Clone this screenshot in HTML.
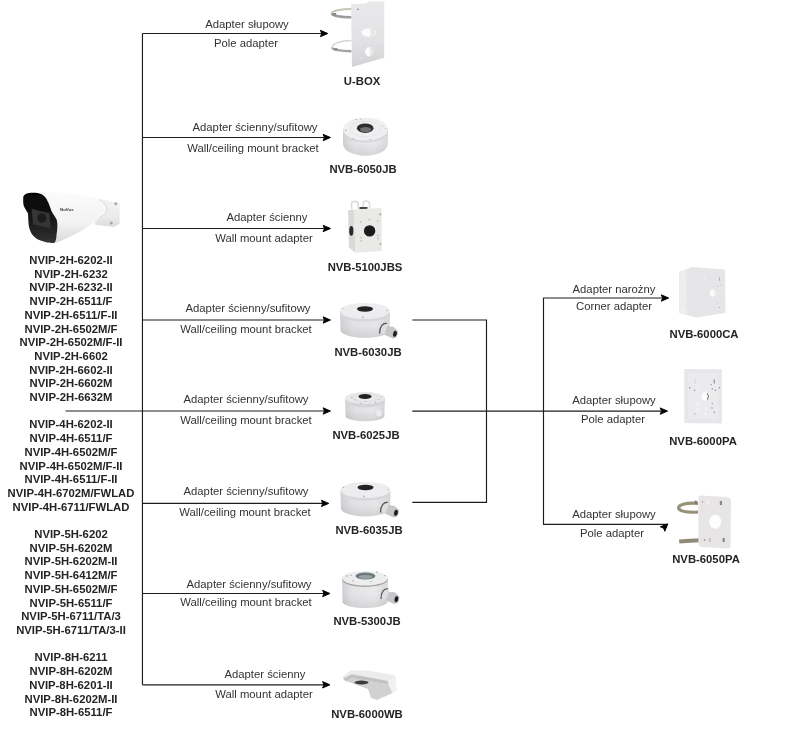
<!DOCTYPE html>
<html lang="pl">
<head>
<meta charset="utf-8">
<title>Adapter compatibility diagram</title>
<style>
html,body{margin:0;padding:0;background:#fff;}
body{width:800px;height:751px;position:relative;overflow:hidden;font-family:"Liberation Sans",sans-serif;font-size:11.3px;color:#333;}
#g{position:absolute;left:0;top:0;}
.t,.m,svg{will-change:transform;}
.t{position:absolute;width:200px;text-align:center;line-height:14px;white-space:nowrap;}
.b{font-weight:bold;color:#242424;}
.m{position:absolute;left:-29px;top:253.9px;width:200px;text-align:center;font-weight:bold;line-height:13.7px;white-space:nowrap;color:#242424;}
</style>
</head>
<body>
<svg id="g" width="800" height="751" viewBox="0 0 800 751">
<defs>
<path id="ah" d="M0 0 L-7.4 3.2 L-6.1 0 L-7.4 -3.2 Z" fill="#000" stroke="#000" stroke-width="0.9" stroke-linejoin="miter"/>
</defs>
<g id="lines" fill="none" stroke="#1c1c1c" stroke-width="1.15">
<path d="M142.45 33.5 V684.8"/>
<path d="M142.45 33.5 H322"/>
<path d="M142.45 137.5 H324"/>
<path d="M142.45 228.5 H324"/>
<path d="M142.45 320 H324"/>
<path d="M65.5 411 H324"/>
<path d="M142.45 503.4 H323"/>
<path d="M142.45 593.5 H324"/>
<path d="M142.45 684.8 H324"/>
<path d="M412.3 320 H486.5 V502.4 H412.3"/>
<path d="M412.3 411.1 H661"/>
<path d="M662 298 H543.5 V524.3 H667"/>
</g>
<g id="heads">
<use href="#ah" x="327.8" y="33.5"/>
<use href="#ah" x="330.5" y="137.5"/>
<use href="#ah" x="330.5" y="228.5"/>
<use href="#ah" x="330.5" y="320"/>
<use href="#ah" x="330.5" y="411"/>
<use href="#ah" x="328.8" y="503.4"/>
<use href="#ah" x="330" y="593.5"/>
<use href="#ah" x="330" y="684.8"/>
<use href="#ah" x="668.7" y="298"/>
<use href="#ah" x="667.6" y="411.1"/>
<use href="#ah" transform="translate(667.8 523.8) rotate(-45)"/>
</g>
</svg>

<svg id="p" width="800" height="751" viewBox="0 0 800 751" style="position:absolute;left:0;top:0">
<defs>
<filter id="bl" x="-10%" y="-10%" width="120%" height="120%"><feGaussianBlur stdDeviation="0.55"/></filter>
<linearGradient id="cyl" x1="0" x2="1" y1="0" y2="0"><stop offset="0" stop-color="#d1d1d5"/><stop offset="0.25" stop-color="#e3e3e6"/><stop offset="0.7" stop-color="#e8e8ea"/><stop offset="1" stop-color="#d6d6da"/></linearGradient>
<linearGradient id="cyl2" x1="0" x2="1" y1="0" y2="0"><stop offset="0" stop-color="#d0d0d4"/><stop offset="0.22" stop-color="#e5e5e8"/><stop offset="0.7" stop-color="#ebebed"/><stop offset="1" stop-color="#dadadd"/></linearGradient>
<linearGradient id="body" x1="0" x2="0" y1="0" y2="1"><stop offset="0" stop-color="#fbfbfb"/><stop offset="0.6" stop-color="#f3f3f3"/><stop offset="1" stop-color="#d9d9d9"/></linearGradient>
<linearGradient id="ubx" x1="0" x2="0" y1="0" y2="1"><stop offset="0" stop-color="#e9e9eb"/><stop offset="0.6" stop-color="#e2e2e5"/><stop offset="1" stop-color="#d2d2d5"/></linearGradient>
<linearGradient id="shd" x1="0" x2="0" y1="0" y2="1"><stop offset="0" stop-color="#000" stop-opacity="0"/><stop offset="0.55" stop-color="#000" stop-opacity="0.01"/><stop offset="1" stop-color="#000" stop-opacity="0.09"/></linearGradient>
<linearGradient id="base" x1="0" x2="0" y1="0" y2="1"><stop offset="0" stop-color="#f3f3f3"/><stop offset="0.6" stop-color="#ececec"/><stop offset="1" stop-color="#dcdcdc"/></linearGradient>
<linearGradient id="hood" x1="0" x2="0" y1="0" y2="1"><stop offset="0" stop-color="#050505"/><stop offset="0.5" stop-color="#161616"/><stop offset="1" stop-color="#333"/></linearGradient>
</defs>

<!-- camera -->
<g filter="url(#bl)">
<path d="M99.2 198.9 L119.6 202.7 L119.6 223.8 L114 227 L95 224.8 Z" fill="url(#base)"/>
<circle cx="115.8" cy="203.7" r="1.5" fill="#a9a9a9"/><circle cx="111.3" cy="223.1" r="1.5" fill="#a6a6a6"/>
<path d="M36 192.3 C55 191.5 80 193.5 98.5 199.5 C104 202 106.8 205.5 106.8 209 C106.8 213 103.5 216 99.2 218 C95 222 88 227 80 231.5 C72 236 64 240 55.5 243 L44 240 Z" fill="url(#body)"/>
<path d="M98.5 199.5 C104 202 106.8 205.5 106.8 209 C106.8 213 103.5 216 99.2 218" fill="none" stroke="#cfcfcf" stroke-width="0.8"/>
<path d="M23.2 197.1 C24 194.5 26 193.3 29 193 C34 192.4 38 192.8 41 194.1 C44 195.5 46 197.5 47.5 201 C49.5 205 50.5 208 51.4 211 C53 214 55.5 217 56.8 220 C57.8 224 57.4 230 56.6 234 C56.4 237 56.2 239 55.7 240.4 C55 242.6 54 243.2 52 243 C49 243 47 242.6 45.3 242.1 C42 241 39 240 36.6 238.7 C34.5 237.4 32.8 235.5 31.5 233.5 C30.3 231.5 29.4 229 28.9 226.6 C28.3 222 28.2 217 28 213.6 C27 211.5 25.5 209.5 24.5 207.5 C23.6 205.5 23.2 204 23.2 202.3 Z" fill="url(#hood)"/>
<path d="M31.5 208.8 L49.6 213.5 L50.5 228.3 L33 224.5 Z" fill="#353535"/>
<ellipse cx="41.8" cy="218" rx="4.4" ry="4.8" fill="#1b1b1b"/>
</g>
<text x="60" y="210.5" font-family="Liberation Sans, sans-serif" font-size="4.4" font-weight="bold" fill="#333" textLength="13.6" lengthAdjust="spacingAndGlyphs">NoVus</text>

<!-- U-BOX -->
<g id="ubox" filter="url(#bl)">
<path d="M331.8 13.4 A20 4.4 0 0 1 351.8 9" fill="none" stroke="#c6c6b4" stroke-width="1.9"/>
<path d="M331.8 13.4 A20 4 0 0 0 351.8 17.3" fill="none" stroke="#9c9c9a" stroke-width="2.4"/>
<rect x="332.6" y="13" width="3.6" height="2.6" fill="#8a8a88"/>
<path d="M332.3 47.4 A19 7 0 0 1 351.5 40.5" fill="none" stroke="#d4d4d2" stroke-width="1.5"/>
<path d="M332.3 47.4 A19 3.9 0 0 0 351.5 51.3" fill="none" stroke="#a3a3a2" stroke-width="2.4"/>
<rect x="334" y="48" width="3.4" height="2.4" fill="#8e8e8c"/>
<path d="M351.1 4.2 L367.4 3.3 L367.4 1.4 L384.2 1.4 L384.2 57.8 L352 67.1 Z" fill="url(#ubx)"/>
<ellipse cx="368.8" cy="32.6" rx="7.4" ry="4.1" fill="#fbfbfb"/>
<path d="M369.6 28.6 A7.4 4.1 0 0 1 369.6 36.6 Q372 32.6 369.6 28.6 Z" fill="#e6e6e6"/>
<ellipse cx="369.3" cy="51.7" rx="4.2" ry="4.7" fill="#fbfbfb"/>
<path d="M369.6 47 A4.2 4.7 0 0 1 369.6 56.4 Q371.4 51.7 369.6 47 Z" fill="#e6e6e6"/>
<circle cx="358" cy="9.2" r="0.8" fill="#777"/>
<g fill="#f4f4f4"><circle cx="358" cy="19.5" r="0.55"/><circle cx="358.6" cy="25.6" r="0.55"/><circle cx="360.4" cy="22.8" r="0.5"/><circle cx="378.6" cy="21.6" r="0.55"/><circle cx="376.5" cy="24.6" r="0.5"/><circle cx="361" cy="44" r="0.55"/><circle cx="360" cy="47" r="0.5"/><circle cx="377.4" cy="40.6" r="0.55"/><circle cx="375.2" cy="43.6" r="0.5"/><circle cx="361" cy="59" r="0.5"/><circle cx="377" cy="53" r="0.5"/></g>
</g>

<!-- NVB-6050JB -->
<g filter="url(#bl)">
<path d="M343 129.1 L343 144 A22.4 11.6 0 0 0 387.9 144 L387.9 129.1 Z" fill="url(#cyl2)"/>
<path d="M343 129.1 L343 144 A22.4 11.6 0 0 0 387.9 144 L387.9 129.1 Z" fill="url(#shd)"/>
<ellipse cx="365.5" cy="131" rx="22.4" ry="11.5" fill="#d6d6da"/>
<ellipse cx="365.5" cy="129.1" rx="22.4" ry="11.4" fill="#efeff1"/>
<g fill="#a0a0a0"><circle cx="356" cy="119.4" r="0.6"/><circle cx="360.8" cy="119" r="0.6"/><circle cx="345.9" cy="130.4" r="0.7"/><circle cx="353.4" cy="138.7" r="0.6"/><circle cx="370" cy="139.6" r="0.6"/><circle cx="382.7" cy="126" r="0.5"/><circle cx="385.3" cy="128.6" r="0.5"/><circle cx="352" cy="150" r="0.5"/></g>
<ellipse cx="365.5" cy="129" rx="15.5" ry="7.8" fill="none" stroke="#e3e3e6" stroke-width="0.8"/>
<ellipse cx="365.2" cy="128.2" rx="8.3" ry="4.8" fill="#2e2e2e"/>
<ellipse cx="365.6" cy="129.6" rx="5.6" ry="2.6" fill="#6f6f6f"/>
</g>

<!-- NVB-5100JBS -->
<g filter="url(#bl)">
<path d="M351.6 209 L351.6 203 Q351.8 201.4 354.5 201.4 Q358 201.4 358.2 204 L358.2 209" fill="none" stroke="#dcdcdc" stroke-width="1.6"/>
<path d="M363.2 208.5 L363.2 203 Q363.4 201 366.3 201 Q369.4 201 369.6 204 L369.6 208.5" fill="none" stroke="#dcdcdc" stroke-width="1.6"/>
<rect x="359.5" y="207" width="8" height="2.2" fill="#444"/>
<path d="M348.1 210.3 L353.8 209.4 L355.6 252.7 L349 247.5 Z" fill="#d9d9d7"/>
<path d="M353.8 209.4 L381.4 208.1 L381.8 251 L355.6 252.7 Z" fill="#e9e9e7"/>
<circle cx="369.6" cy="230.9" r="5.7" fill="#1f1f1f"/>
<ellipse cx="351.3" cy="230.9" rx="2.1" ry="4.8" fill="#2a2a2a"/>
<circle cx="380.3" cy="214.3" r="1.1" fill="#aaa"/><circle cx="380.5" cy="244" r="1.1" fill="#aaa"/>
<rect x="360" y="221.3" width="1.4" height="1.6" fill="#bbb"/><rect x="368.6" y="218.8" width="1.4" height="1.6" fill="#bbb"/><rect x="377" y="220" width="1.4" height="1.6" fill="#bbb"/>
<rect x="360.3" y="236.8" width="1.4" height="1.6" fill="#bbb"/><rect x="360.5" y="240" width="1.4" height="1.6" fill="#bbb"/><rect x="377.3" y="234.7" width="1.4" height="1.4" fill="#bbb"/><rect x="377.4" y="237.8" width="1.4" height="1.4" fill="#bbb"/>
</g>

<!-- NVB-6030JB -->
<g id="jb30" filter="url(#bl)">
<path d="M340 311 L340.4 330 A24.6 7.8 0 0 0 389.6 330 L390 311 Z" fill="url(#cyl)"/>
<path d="M340 311 L340.4 330 A24.6 7.8 0 0 0 389.6 330 L390 311 Z" fill="url(#shd)"/>
<ellipse cx="365" cy="313.6" rx="24.9" ry="8" fill="#d7d7db"/>
<ellipse cx="365" cy="311" rx="25" ry="8" fill="#ededef"/>
<circle cx="342.6" cy="308.6" r="0.7" fill="#b0b0b0"/><circle cx="387" cy="310.4" r="0.7" fill="#b0b0b0"/>
<ellipse cx="365" cy="309" rx="8" ry="2.7" fill="#222"/>
<circle cx="363" cy="317.4" r="0.8" fill="#aaa"/>
<path d="M384.6 326.0 L393.4 326.8 L397.6 330.8 L396.8 336.8 L393.4 338.8 L384.2 334.8 Z" fill="#c7c7ca"/>
<path d="M382.2 324.0 L387.8 324.8 L384.8 333.8 L381.0 333.2 Z" fill="#dfdfe1"/>
<path d="M386.8 323.4 C383.0 322.8 379.4 326.4 379.6 333.6" fill="none" stroke="#505050" stroke-width="1.2"/>
<ellipse cx="395.0" cy="333.8" rx="2.7" ry="3.9" transform="rotate(15 395.0 333.8)" fill="#bcbcbf"/>
<ellipse cx="395.0" cy="333.8" rx="1.8" ry="3" transform="rotate(15 395.0 333.8)" fill="#1c1c1c"/>
</g>

<!-- NVB-6025JB -->
<g id="jb25" filter="url(#bl)">
<path d="M345 398 L345.6 416.4 A19.6 5.8 0 0 0 384.4 416.4 L385 398 Z" fill="url(#cyl)"/>
<path d="M345 398 L345.6 416.4 A19.6 5.8 0 0 0 384.4 416.4 L385 398 Z" fill="url(#shd)"/>
<ellipse cx="365" cy="401.6" rx="19.8" ry="6" fill="#d5d5d9"/>
<ellipse cx="365" cy="398" rx="20" ry="6" fill="#e9e9eb"/>
<ellipse cx="365" cy="397.6" rx="13" ry="4" fill="none" stroke="#dcdce0" stroke-width="0.9"/>
<ellipse cx="365" cy="396.5" rx="6.5" ry="2.5" fill="#222"/>
<g fill="#a8a8a8"><circle cx="351.6" cy="397.6" r="0.6"/><circle cx="355.2" cy="399.8" r="0.6"/><circle cx="361" cy="403.4" r="0.6"/><circle cx="375.6" cy="402.4" r="0.6"/><circle cx="379" cy="399.6" r="0.6"/><circle cx="381.4" cy="397" r="0.6"/><circle cx="365.6" cy="401.8" r="0.5"/><circle cx="371" cy="393" r="0.5"/></g>
<ellipse cx="379" cy="413" rx="3" ry="3.6" fill="#ebebed"/>
</g>

<!-- NVB-6035JB -->
<g id="jb35" filter="url(#bl)">
<path d="M340.5 490 L340.9 508.6 A24.6 7.8 0 0 0 390.1 508.6 L390.5 490 Z" fill="url(#cyl)"/>
<path d="M340.5 490 L340.9 508.6 A24.6 7.8 0 0 0 390.1 508.6 L390.5 490 Z" fill="url(#shd)"/>
<ellipse cx="365.5" cy="492.6" rx="24.9" ry="8" fill="#d7d7db"/>
<ellipse cx="365.5" cy="490" rx="25" ry="8" fill="#ededef"/>
<circle cx="343.4" cy="487.4" r="0.7" fill="#b0b0b0"/><circle cx="388" cy="489.6" r="0.7" fill="#b0b0b0"/>
<ellipse cx="365.5" cy="487.5" rx="8" ry="2.7" fill="#222"/>
<circle cx="364" cy="496.4" r="0.8" fill="#aaa"/>
<path d="M385.6 505.0 L394.4 505.8 L398.6 509.8 L397.8 515.8 L394.4 517.8 L385.2 513.8 Z" fill="#c7c7ca"/>
<path d="M383.2 503.0 L388.8 503.8 L385.8 512.8 L382.0 512.2 Z" fill="#dfdfe1"/>
<path d="M387.8 502.4 C384.0 501.8 380.4 505.4 380.6 512.6" fill="none" stroke="#505050" stroke-width="1.2"/>
<ellipse cx="396.0" cy="512.8" rx="2.7" ry="3.9" transform="rotate(15 396.0 512.8)" fill="#bcbcbf"/>
<ellipse cx="396.0" cy="512.8" rx="1.8" ry="3" transform="rotate(15 396.0 512.8)" fill="#1c1c1c"/>
</g>

<!-- NVB-5300JB -->
<g id="jb53" filter="url(#bl)">
<path d="M342 578.5 L342.6 602.2 A22.6 6.8 0 0 0 387.4 602.2 L388 578.5 Z" fill="url(#cyl2)"/>
<path d="M342 578.5 L342.6 602.2 A22.6 6.8 0 0 0 387.4 602.2 L388 578.5 Z" fill="url(#shd)"/>
<ellipse cx="365" cy="579.3" rx="23" ry="7.6" fill="#a4a4a4"/>
<ellipse cx="365" cy="578.2" rx="22.8" ry="7.3" fill="#ededee"/>
<g fill="#9a9a9a"><circle cx="346.6" cy="576" r="0.7"/><circle cx="353" cy="581" r="0.7"/><circle cx="371" cy="581.6" r="0.7"/><circle cx="377" cy="572" r="0.7"/><circle cx="385" cy="575.6" r="0.7"/><circle cx="351" cy="575.4" r="0.6"/></g>
<ellipse cx="365.5" cy="576" rx="10" ry="3.5" fill="#6e787c"/>
<ellipse cx="365.5" cy="576.8" rx="6.8" ry="1.9" fill="#98a1a5"/>
<path d="M386.0 591.4 L394.8 592.2 L399.0 596.2 L398.2 602.2 L394.8 604.2 L385.6 600.2 Z" fill="#c7c7ca"/>
<path d="M383.6 589.4 L389.2 590.2 L386.2 599.2 L382.4 598.6 Z" fill="#dfdfe1"/>
<path d="M388.2 588.8 C384.4 588.2 380.8 591.8 381.0 599.0" fill="none" stroke="#505050" stroke-width="1.2"/>
<ellipse cx="396.4" cy="599.2" rx="2.7" ry="3.9" transform="rotate(15 396.4 599.2)" fill="#bcbcbf"/>
<ellipse cx="396.4" cy="599.2" rx="1.8" ry="3" transform="rotate(15 396.4 599.2)" fill="#1c1c1c"/>
</g>

<!-- NVB-6000WB -->
<g id="wb" filter="url(#bl)">
<path d="M342.5 676.8 L351 670.3 L369 670.8 L395 675.3 L396 678.5 L388 681.5 L352 674.5 L343 679.2 Z" fill="#ececec"/>
<path d="M343 678.6 L352 674.3 L388 681 L388.6 684.4 L352 678.2 L346 681.4 Z" fill="#c2c2c2"/>
<path d="M346 681.2 L352 678 L388.6 684.2 L392.5 693 L377 700 L371 698 L368 689 L348 681.8 Z" fill="#d1d1d1"/>
<path d="M388 680.6 L395.6 676.4 L396.6 691 L392.6 693.6 Z" fill="#f1f1f1"/>
<ellipse cx="361.5" cy="682.5" rx="7" ry="1.9" fill="#3a3a3a"/>
</g>

<!-- NVB-6000CA -->
<g id="ca60" filter="url(#bl)">
<path d="M679.3 272 L692.4 266.9 L725 269.6 L725.5 313 L696.1 317.6 L679.3 313 Z" fill="#e6e6e9"/>
<path d="M679.3 272 L686 269.4 L687 315 L679.3 313 Z" fill="#ededef"/>
<ellipse cx="712.9" cy="293" rx="3" ry="3.6" fill="#fcfcfc"/>
<path d="M713.6 289.8 A3 3.6 0 0 1 713.6 296.4 Q715 293 713.6 289.8 Z" fill="#e9e9e9"/>
<circle cx="683" cy="275.2" r="1" fill="#fafafa"/><circle cx="683" cy="310.2" r="1" fill="#fafafa"/>
<rect x="703.6" y="277" width="1.1" height="4" fill="#f3f3f3"/>
<rect x="719" y="277.3" width="1" height="3.4" fill="#b0b0b0"/>
<g fill="#b4b4b4"><circle cx="719.4" cy="307.4" r="0.7"/><circle cx="720.8" cy="285" r="0.5"/><circle cx="717.5" cy="302.7" r="0.5"/><circle cx="717.6" cy="286.4" r="0.5"/></g>
</g>

<!-- NVB-6000PA -->
<g id="pa60" filter="url(#bl)">
<path d="M684.2 369 L721.8 369.3 L722 423.4 L684.4 423 Z" fill="#e7e7ea"/>
<path d="M688 373 L718 373.2 L718 419 L688 419 Z" fill="#ebebed"/>
<circle cx="705.6" cy="396.4" r="4.2" fill="#fcfcfc"/>
<path d="M707.3 393.4 Q709.6 396 707.5 399.6" fill="none" stroke="#5a5a5a" stroke-width="1"/>
<rect x="713.6" y="379.4" width="1.3" height="4.2" fill="#9a9a9a"/>
<rect x="694.6" y="379.4" width="0.9" height="4.2" fill="#cfcfcf"/>
<g fill="#8e8e8e"><circle cx="689.9" cy="387.7" r="0.75"/><circle cx="694.6" cy="390.3" r="0.7"/><circle cx="719.5" cy="387.7" r="0.7"/><circle cx="712.3" cy="388.9" r="0.7"/><circle cx="715.5" cy="390.3" r="0.7"/><circle cx="711.3" cy="384.7" r="0.6"/><circle cx="712.3" cy="403.6" r="0.7"/><circle cx="712" cy="408" r="0.7"/><circle cx="714.4" cy="412.2" r="0.8"/><circle cx="694.9" cy="413.8" r="0.6"/></g>
<g fill="#f8f8f8"><circle cx="697.8" cy="388.9" r="0.9"/><rect x="697.2" y="403.6" width="1.4" height="2.6"/><rect x="697.6" y="408" width="1.2" height="2.4"/><rect x="705" y="407.4" width="1.3" height="3"/><rect x="705" y="412.4" width="1.3" height="2.8"/></g>
</g>

<!-- NVB-6050PA -->
<g filter="url(#bl)">
<path d="M698 503.4 C685 502.4 678.2 505 678.6 508.2 C679.6 511.4 688 512.4 698 512.2" fill="none" stroke="#979278" stroke-width="3.2"/>
<path d="M679.2 541.6 Q690 540.4 700.5 540.2" fill="none" stroke="#908b78" stroke-width="4"/>
<path d="M700.4 495.6 L726.9 497 Q731 497.6 731 501.3 L730.6 545 Q730.4 548.6 727.8 548.6 L701.7 546.9 Q698.6 546.4 698.4 542.2 L698.4 498 Q698.6 495.6 700.4 495.6 Z" fill="#e7e5e6"/>
<ellipse cx="715.2" cy="521.7" rx="6" ry="7" fill="#fdfdfd"/>
<rect x="694.8" y="500.6" width="2" height="3.4" fill="#777"/>
<rect x="719.8" y="501" width="2.2" height="4" fill="#8a8a84"/>
<rect x="722.6" y="538" width="2.2" height="4" fill="#8a8a84"/>
<rect x="708.8" y="538" width="2" height="4" fill="#c4c2c0"/>
<rect x="706.6" y="500.6" width="2" height="4" fill="#f6f6f6"/>
<circle cx="702.6" cy="502" r="0.8" fill="#999"/><circle cx="704.6" cy="540" r="0.9" fill="#999"/>
</g>
</svg>

<div class="m">NVIP-2H-6202-II<br>NVIP-2H-6232<br>NVIP-2H-6232-II<br>NVIP-2H-6511/F<br>NVIP-2H-6511/F-II<br>NVIP-2H-6502M/F<br>NVIP-2H-6502M/F-II<br>NVIP-2H-6602<br>NVIP-2H-6602-II<br>NVIP-2H-6602M<br>NVIP-2H-6632M<br><br>NVIP-4H-6202-II<br>NVIP-4H-6511/F<br>NVIP-4H-6502M/F<br>NVIP-4H-6502M/F-II<br>NVIP-4H-6511/F-II<br>NVIP-4H-6702M/FWLAD<br>NVIP-4H-6711/FWLAD<br><br>NVIP-5H-6202<br>NVIP-5H-6202M<br>NVIP-5H-6202M-II<br>NVIP-5H-6412M/F<br>NVIP-5H-6502M/F<br>NVIP-5H-6511/F<br>NVIP-5H-6711/TA/3<br>NVIP-5H-6711/TA/3-II<br><br>NVIP-8H-6211<br>NVIP-8H-6202M<br>NVIP-8H-6201-II<br>NVIP-8H-6202M-II<br>NVIP-8H-6511/F</div>

<div class="t" style="left:146.5px;top:17.4px">Adapter słupowy</div>
<div class="t" style="left:145.5px;top:36px">Pole adapter</div>
<div class="t" style="left:154.6px;top:119.5px">Adapter ścienny/sufitowy</div>
<div class="t" style="left:153px;top:140.7px">Wall/ceiling mount bracket</div>
<div class="t" style="left:167px;top:210px">Adapter ścienny</div>
<div class="t" style="left:163.5px;top:231.1px">Wall mount adapter</div>
<div class="t" style="left:148px;top:300.8px">Adapter ścienny/sufitowy</div>
<div class="t" style="left:146px;top:322.3px">Wall/ceiling mount bracket</div>
<div class="t" style="left:146.3px;top:391.6px">Adapter ścienny/sufitowy</div>
<div class="t" style="left:145.5px;top:412.5px">Wall/ceiling mount bracket</div>
<div class="t" style="left:146.1px;top:484.1px">Adapter ścienny/sufitowy</div>
<div class="t" style="left:145px;top:504.5px">Wall/ceiling mount bracket</div>
<div class="t" style="left:149.1px;top:577.4px">Adapter ścienny/sufitowy</div>
<div class="t" style="left:146.2px;top:595.3px">Wall/ceiling mount bracket</div>
<div class="t" style="left:165.2px;top:667.2px">Adapter ścienny</div>
<div class="t" style="left:164px;top:686.5px">Wall mount adapter</div>

<div class="t" style="left:514px;top:281.9px">Adapter narożny</div>
<div class="t" style="left:514px;top:298.9px">Corner adapter</div>
<div class="t" style="left:513.6px;top:393.1px">Adapter słupowy</div>
<div class="t" style="left:513.4px;top:412.4px">Pole adapter</div>
<div class="t" style="left:513.6px;top:507.1px">Adapter słupowy</div>
<div class="t" style="left:512.4px;top:525.9px">Pole adapter</div>

<div class="t b" style="left:261.9px;top:73.6px">U-BOX</div>
<div class="t b" style="left:263.3px;top:162.2px">NVB-6050JB</div>
<div class="t b" style="left:265.3px;top:259.8px">NVB-5100JBS</div>
<div class="t b" style="left:268px;top:344.9px">NVB-6030JB</div>
<div class="t b" style="left:266px;top:428px">NVB-6025JB</div>
<div class="t b" style="left:268.8px;top:523.1px">NVB-6035JB</div>
<div class="t b" style="left:267px;top:614.2px">NVB-5300JB</div>
<div class="t b" style="left:267.2px;top:706.5px">NVB-6000WB</div>
<div class="t b" style="left:603.6px;top:326.5px">NVB-6000CA</div>
<div class="t b" style="left:603px;top:433.8px">NVB-6000PA</div>
<div class="t b" style="left:605.5px;top:552px">NVB-6050PA</div>
</body>
</html>
